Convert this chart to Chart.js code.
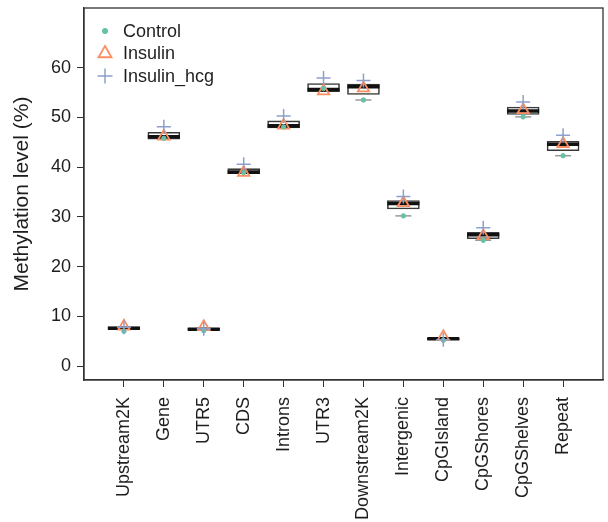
<!DOCTYPE html>
<html><head><meta charset="utf-8">
<script src="https://cdn.jsdelivr.net/npm/chart.js@4.4.1/dist/chart.umd.min.js"></script>
<style>html,body{margin:0;padding:0;background:#fff}</style>
</head><body>
<canvas id="c" width="608" height="522"></canvas>
<script>
const categories = ['Upstream2K','Gene','UTR5','CDS','Introns','UTR3','Downstream2K','Intergenic','CpGIsland','CpGShores','CpGShelves','Repeat'];
const yTicks = [0, 10, 20, 30, 40, 50, 60];
// box statistics
const boxQ1     = [7.4, 45.6, 7.2, 38.7, 47.9, 55.2, 54.6, 31.6, 5.3, 25.6, 50.6, 43.3];
const boxMedian = [7.6, 46.1, 7.4, 39.0, 48.3, 55.6, 56.2, 32.7, 5.5, 26.4, 51.3, 44.6];
const boxQ3     = [7.9, 47.0, 7.6, 39.7, 49.3, 56.8, 56.7, 33.3, 5.6, 26.9, 52.1, 45.2];
const whiskerLow = [null, null, null, null, null, null, 53.5, 30.2, null, 25.3, 50.1, 42.3];
// group values
const control    = [7.0, 45.8, 7.1, 38.9, 48.1, 55.8, 53.5, 30.2, 5.2, 25.3, 50.1, 42.3];
const insulin    = [8.0, 46.2, 7.9, 38.9, 48.4, 55.3, 55.9, 32.8, 5.9, 26.2, 51.5, 44.7];
const insulinHcg = [7.8, 48.1, 7.5, 40.6, 50.3, 57.9, 57.4, 34.1, 5.3, 27.8, 53.1, 46.4];

const FONT = '"Liberation Sans", Arial, sans-serif';
const TXT = '#1e1e1e';
const toPts = arr => arr.map((v, i) => v == null ? null : {x: i, y: v}).filter(Boolean);

const frame = {
  id: 'frame',
  beforeDatasetsDraw(chart) {
    const {ctx, chartArea: a} = chart;
    ctx.save();
    ctx.strokeStyle = '#333';
    ctx.lineWidth = 1.3;
    ctx.strokeRect(a.left, a.top, a.right - a.left, a.bottom - a.top);
    ctx.restore();
  }
};

const innerLegend = {
  id: 'innerLegend',
  afterDraw(chart) {
    const {ctx} = chart;
    const items = chart.data.datasets.filter(d => d.inLegend);
    ctx.save();
    ctx.font = '18px ' + FONT;
    ctx.textBaseline = 'middle';
    ctx.textAlign = 'left';
    items.forEach((d, k) => {
      const y = 31 + k * 22.5;
      const x = 105;
      ctx.strokeStyle = d.pointBorderColor;
      ctx.fillStyle = d.pointBackgroundColor;
      ctx.lineWidth = d.pointBorderWidth;
      Chart.helpers.drawPoint(ctx, {
        pointStyle: d.pointStyle,
        radius: d.legendRadius,
        borderWidth: d.pointBorderWidth,
        rotation: 0
      }, x, y);
      ctx.fillStyle = TXT;
      ctx.fillText(d.label, 123, y + 1);
    });
    ctx.restore();
  }
};

new Chart(document.getElementById('c'), {
  type: 'bar',
  data: {
    datasets: [
      {type: 'scatter', label: 'Control', inLegend: true, legendRadius: 2.6, data: toPts(control),
       pointStyle: 'circle', pointRadius: 2.2, pointBackgroundColor: '#66c2a5', pointBorderColor: '#66c2a5', pointBorderWidth: 1, order: 1},
      {type: 'scatter', label: 'Insulin', inLegend: true, legendRadius: 7.5, data: toPts(insulin),
       pointStyle: 'triangle', pointRadius: 6.5, pointBackgroundColor: 'rgba(0,0,0,0)', pointBorderColor: '#fc8d62', pointBorderWidth: 1.8, order: 2},
      {type: 'scatter', label: 'Insulin_hcg', inLegend: true, legendRadius: 7.5, data: toPts(insulinHcg),
       pointStyle: 'cross', pointRadius: 7, pointBackgroundColor: '#8da0cb', pointBorderColor: '#8da0cb', pointBorderWidth: 1.5, order: 0},
      {type: 'scatter', label: 'median', data: toPts(boxMedian),
       pointStyle: 'line', pointRadius: 16, pointBorderColor: '#111', pointBorderWidth: 3.6, order: 5},
      {type: 'scatter', label: 'whisker', data: toPts(whiskerLow),
       pointStyle: 'line', pointRadius: 8, pointBorderColor: '#999', pointBorderWidth: 1.5, order: 6},
      {type: 'bar', label: 'box', data: categories.map((_, i) => ({x: i, y: [boxQ1[i], boxQ3[i]]})),
       backgroundColor: '#fff', borderColor: '#3a3a3a', borderWidth: 1.6, borderSkipped: false, barThickness: 32, order: 7}
    ]
  },
  options: {
    responsive: false,
    animation: false,
    events: [],
    layout: {autoPadding: false, padding: {top: 8, right: 5, left: 0, bottom: 0}},
    plugins: {legend: {display: false}, tooltip: {enabled: false}},
    scales: {
      x: {
        type: 'linear', min: -1, max: 12, offset: false,
        grid: {drawOnChartArea: false, drawTicks: true, tickLength: 7, color: '#333', offset: false},
        border: {display: true, color: '#333', width: 1.3},
        afterBuildTicks: s => { s.ticks = categories.map((_, i) => ({value: i})); },
        afterFit: s => { s.height = 142; s.paddingLeft = 0; s.paddingRight = 0; },
        ticks: {
          autoSkip: false, minRotation: 90, maxRotation: 90, padding: 10,
          color: TXT, font: {family: FONT, size: 18},
          callback: v => categories[v]
        }
      },
      y: {
        type: 'linear', min: -2.8, max: 72,
        grid: {drawOnChartArea: false, drawTicks: true, tickLength: 7, color: '#333'},
        border: {display: true, color: '#333', width: 1.3},
        afterBuildTicks: s => { s.ticks = yTicks.map(v => ({value: v})); },
        afterFit: s => { s.width = 84; s.paddingTop = 0; s.paddingBottom = 0; },
        ticks: {padding: 6, color: TXT, font: {family: FONT, size: 18}},
        title: {display: true, text: 'Methylation level (%)', color: TXT, font: {family: FONT, size: 21}, padding: {top: 10, bottom: 0}}
      }
    }
  },
  plugins: [frame, innerLegend]
});
</script>
</body></html>
